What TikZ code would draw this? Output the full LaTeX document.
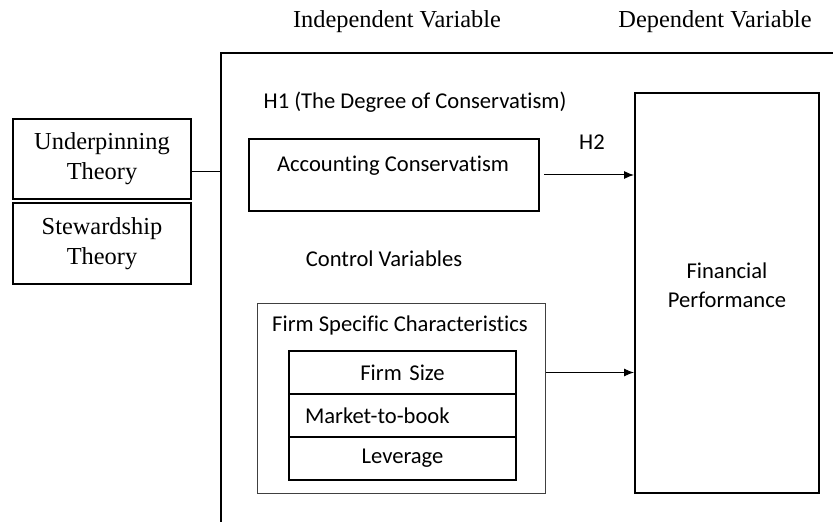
\documentclass[tikz,border=0pt]{standalone}
\usepackage{fontspec}
\setmainfont{Liberation Serif}
\newfontfamily\calibri[Ligatures=NoCommon]{Carlito}
\usetikzlibrary{positioning,arrows.meta}

\begin{document}
\begin{tikzpicture}[x=0.5pt,y=-0.5pt,every node/.style={inner sep=0pt},
		serif/.style={font=\fontsize{12.2}{15}\selectfont,align=center},
		sans/.style={font=\calibri\fontsize{11.3}{14.5}\selectfont,align=center},
		thickbox/.style={draw,line width=1pt},
		rowbox/.style={thickbox,minimum width=113.5pt,minimum height=21.5pt,text width=97.5pt},
		link/.style={line width=0.5pt},
		arrowline/.style={link,-{Latex[length=5pt,width=4pt]}}]
		\useasboundingbox (0,0) rectangle (833,522);
		% Column headings
		\node[serif] (indep) at (397,22) {Independent Variable};
		\node[serif] (dep) at (715,22) {Dependent Variable};
		% Open frame round the model (no right or bottom edge)
		\coordinate (frameTop) at (221,53);
		\draw[line width=1pt] (221,522) -- (frameTop) -- (833,53);
		
		% Theory boxes on the left
		\node[serif,thickbox,minimum width=89pt,minimum height=40pt] (under) at (102,159) {Underpinning\\Theory};
		\node[serif,thickbox,minimum width=89pt,minimum height=40.5pt] (stew) at (102,243.5) {Stewardship\\Theory};
		\draw[link] (under.-8.6) -- (under.-8.6 -| frameTop);
		
		% Hypotheses and the independent variable
		\node[sans] (h1) at (415,102) {H1 (The Degree of Conservatism)};
		\node[thickbox,minimum width=145pt,minimum height=36pt] (acc) at (394,175) {};
		\node[sans] (accText) at (393,166) {Accounting Conservatism};
		\node[sans] (h2) at (592,142) {H2};
		
		% Dependent variable
		\node[thickbox,minimum width=92pt,minimum height=200pt] (fin) at (727,293) {};
		\node[sans] (finText) at (727,285) {Financial\\Performance};
		
		% Control variables
		\node[sans] (ctrl) at (384,259) {Control Variables};
		\node[draw=black!75,line width=0.5pt,minimum width=144pt,minimum height=94.5pt] (firm) at (401,398.5) {};
		\node[sans] (firmTitle) at (400,325) {Firm Specific Characteristics};
		% Stack of characteristics, zero-based
		\foreach \n/\t [count=\i from 0] in {size/Firm Size, mtb/Market-to-book, lev/Leverage}{
			\ifnum \i=1 % This row is left aligned
			\node[sans,rowbox,align=left] (\n) at (402.5,{372.5+43*\i}) {\t};
			\else
			\node[sans,rowbox] (\n) at (402.5,{372.5+43*\i}) {\t};
			\fi
		}
		
		% Arrows into the dependent variable
		\draw[arrowline,shorten <=2pt] (acc.east) -- (acc.east -| fin.west);
		\draw[arrowline] (size.east -| firm.east) -- (size.east -| fin.west);
	\end{tikzpicture}
\end{document}
